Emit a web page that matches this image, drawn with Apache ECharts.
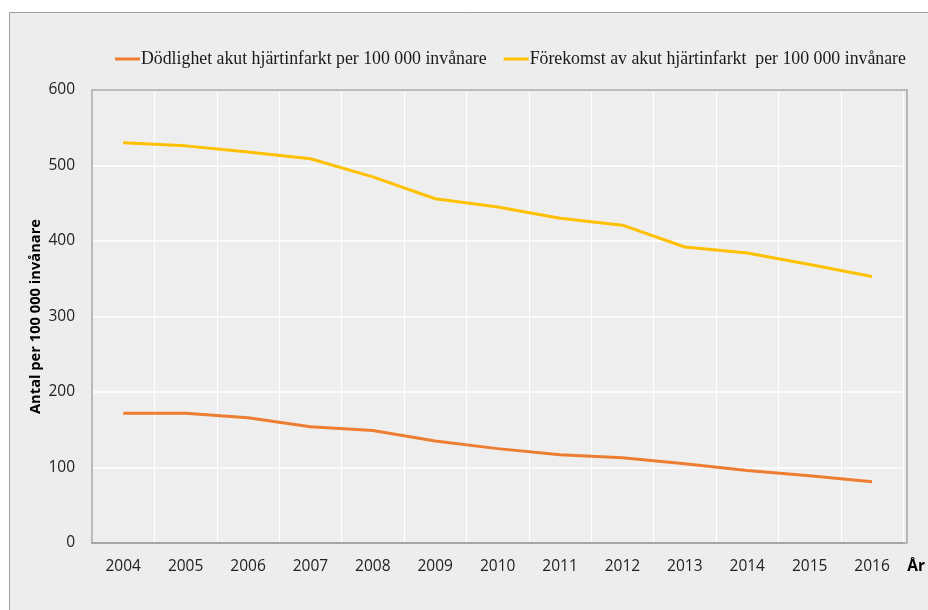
<!DOCTYPE html>
<html><head><meta charset="utf-8">
<script src="https://cdn.jsdelivr.net/npm/echarts@6/dist/echarts.min.js"></script>
<style>html,body{margin:0;padding:0;background:#fff}#c{width:928px;height:610px}</style>
</head><body><div id="c"></div>
<script>
const years = ['2004','2005','2006','2007','2008','2009','2010','2011','2012','2013','2014','2015','2016'];
const dodlighet = [172,172,166,154,149,135,125,117,113,105,96,89,81];
const forekomst = [530,526,518,509,485,456,445,430,421,392,384,369,353];
const yTicks = [0,100,200,300,400,500,600];
const nameD = 'Dödlighet akut hjärtinfarkt per 100 000 invånare';
const nameF = 'Förekomst av akut hjärtinfarkt  per 100 000 invånare';

const G = {left:92, right:21, top:90, bottom:67};
const chart = echarts.init(document.getElementById('c'), null, {renderer:'canvas'});
chart.setOption({
  animation:false,
  graphic:[
    {type:'rect', z:-10, silent:true, shape:{x:9.5,y:12.5,width:1000,height:1000}, style:{fill:'#ededed', stroke:'#a0a0a0', lineWidth:1}},
    {type:'rect', z:100, silent:true, shape:{x:G.left,y:G.top,width:928-G.left-G.right,height:610-G.top-G.bottom}, style:{fill:null, stroke:'#a6a6a6', lineWidth:1.5}}
  ],
  legend:{
    left:110, top:45, itemGap:17, itemWidth:25, itemHeight:3, icon:'rect',
    textStyle:{fontFamily:'Liberation Serif', fontSize:17.8, color:'#1a1a1a', padding:[0,0,0,-4]},
    data:[nameD, nameF]
  },
  grid:Object.assign({show:true, backgroundColor:'#eeeeee', borderWidth:0}, G),
  xAxis:{
    type:'category', data:years, boundaryGap:true,
    name:'År', nameLocation:'end', nameGap:4,
    nameTextStyle:{fontFamily:'Open Sans', fontWeight:'bold', fontSize:15.5, color:'#000', verticalAlign:'top', padding:[16,0,0,0]},
    axisLine:{show:true, lineStyle:{color:'#a6a6a6', width:2}},
    axisTick:{show:false},
    axisLabel:{fontFamily:'Open Sans', fontSize:15.5, color:'#222', margin:16},
    splitLine:{show:true, lineStyle:{color:'#ffffff', width:1}}
  },
  yAxis:{
    type:'value', min:0, max:600, interval:100,
    name:'Antal per 100 000 invånare', nameLocation:'middle', nameGap:49, nameMoveOverlap:false,
    nameTextStyle:{fontFamily:'Open Sans', fontWeight:'bold', fontSize:14.7, color:'#000'},
    axisLine:{show:false},
    axisTick:{show:false},
    axisLabel:{fontFamily:'Open Sans', fontSize:15.5, color:'#222', margin:17,
      formatter:v=>yTicks.includes(v)?String(v):''},
    splitLine:{show:true, lineStyle:{color:'#ffffff', width:1.5}}
  },
  series:[
    {name:nameD, type:'line', data:dodlighet, symbol:'none', lineStyle:{color:'#ED7D31', width:3}, itemStyle:{color:'#ED7D31'}},
    {name:nameF, type:'line', data:forekomst, symbol:'none', lineStyle:{color:'#FFC000', width:3}, itemStyle:{color:'#FFC000'}}
  ]
});
</script></body></html>
